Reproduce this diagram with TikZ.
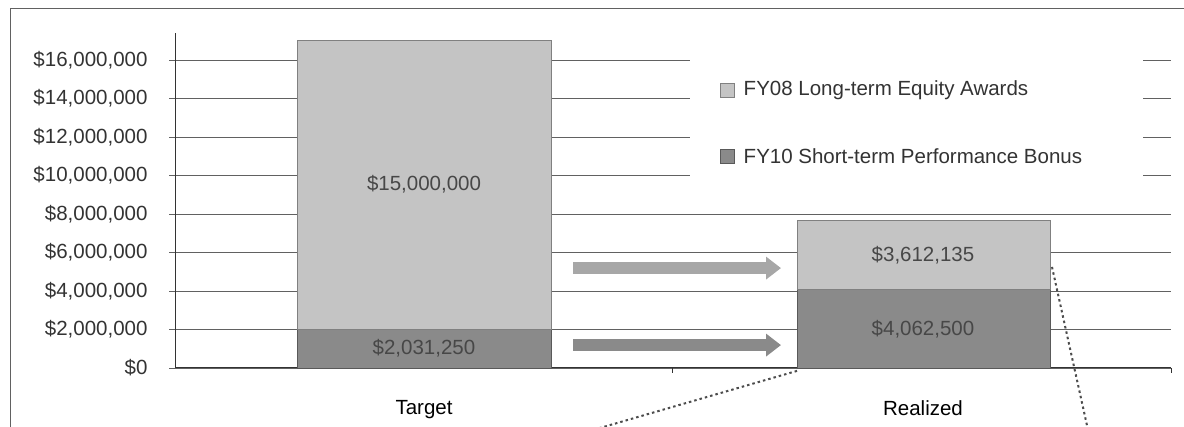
\documentclass[tikz,border=0pt]{standalone}
\usepackage{fontspec}
\setmainfont{Liberation Sans}
\usetikzlibrary{arrows.meta}
\definecolor{barlight}{gray}{0.77}
\definecolor{bardark}{gray}{0.54}
\definecolor{gridgray}{gray}{0.38}
\begin{document}
\begin{tikzpicture}[x=1pt,y=19.25pt,font=\fontsize{20.5}{24}\selectfont,
  gridline/.style={gridgray,line width=0.9pt},
  seglight/.style={fill=barlight,draw=gray,line width=0.6pt},
  segdark/.style={fill=bardark,draw=gray!70!black,line width=0.6pt},
  val/.style={text=black!72},
  movearrow/.style={line width=12pt,-{Triangle[length=15pt,width=22pt]}},
  callout/.style={dash pattern=on 2.5pt off 3pt,line width=2pt,black!70}]
\useasboundingbox (0,-3.013) rectangle (1184,19.117);
\draw[gridgray,line width=0.8pt] (10,-3.2) -- (10,18.7) -- (1184,18.7);
\foreach \v/\t in {0/{\$0},2/{\$2,000,000},4/{\$4,000,000},6/{\$6,000,000},8/{\$8,000,000},
  10/{\$10,000,000},12/{\$12,000,000},14/{\$14,000,000},16/{\$16,000,000}}{
  \draw[gridline] (169,\v) -- (1171,\v);
  \node[anchor=east,text=black!80] (ylab\v) at (151,\v) {\t};
}
\fill[white] (690,8.7) rectangle (1143,17.2);
\draw[black!80,line width=1pt] (175,17.4) -- (175,0) -- (1171,0);
\draw[black!80,line width=1pt] (672,0) -- (672,-0.26) (1171,0) -- (1171,-0.26);
\draw[segdark] (297,0) rectangle (551,2.03125);
\draw[seglight] (297,2.03125) rectangle (551,17.03125);
\draw[segdark] (797,0) rectangle (1050,4.0625);
\draw[seglight] (797,4.0625) rectangle (1050,7.674635);
\node[val] (tlong) at (424,9.53) {\$15,000,000};
\node[val] (tshort) at (424,1.02) {\$2,031,250};
\node[val] (rlong) at (923,5.87) {\$3,612,135};
\node[val] (rshort) at (923,2.03) {\$4,062,500};
\node (target) at (424,-2.18) {Target};
\node (realized) at (923,-2.08) {Realized};
\node[draw=gray,fill=barlight,minimum size=14pt,inner sep=0pt] (keylong) at (727,14.44) {};
\node[draw=gray!70!black,fill=bardark,minimum size=14pt,inner sep=0pt] (keyshort) at (727,11.01) {};
\node[anchor=west,text=black!80] at ([xshift=6pt]keylong.east) {FY08 Long-term Equity Awards};
\node[anchor=west,text=black!80] at ([xshift=6pt]keyshort.east) {FY10 Short-term Performance Bonus};
\coordinate (lfrom) at (573,5.19);
\coordinate (lto) at (781,5.19);
\coordinate (dfrom) at (573,1.19);
\coordinate (dto) at (781,1.19);
\draw[movearrow,barlight!85!black] (lfrom) -- (lto);
\draw[movearrow,bardark] (dfrom) -- (dto);
\coordinate (c1) at (797,-0.15);
\coordinate (c1end) at (593,-3.22);
\coordinate (c2) at (1052,5.25);
\coordinate (c2end) at (1088,-3.22);
\draw[callout] (c1) -- (c1end);
\draw[callout] (c2) -- (c2end);
\end{tikzpicture}
\end{document}
